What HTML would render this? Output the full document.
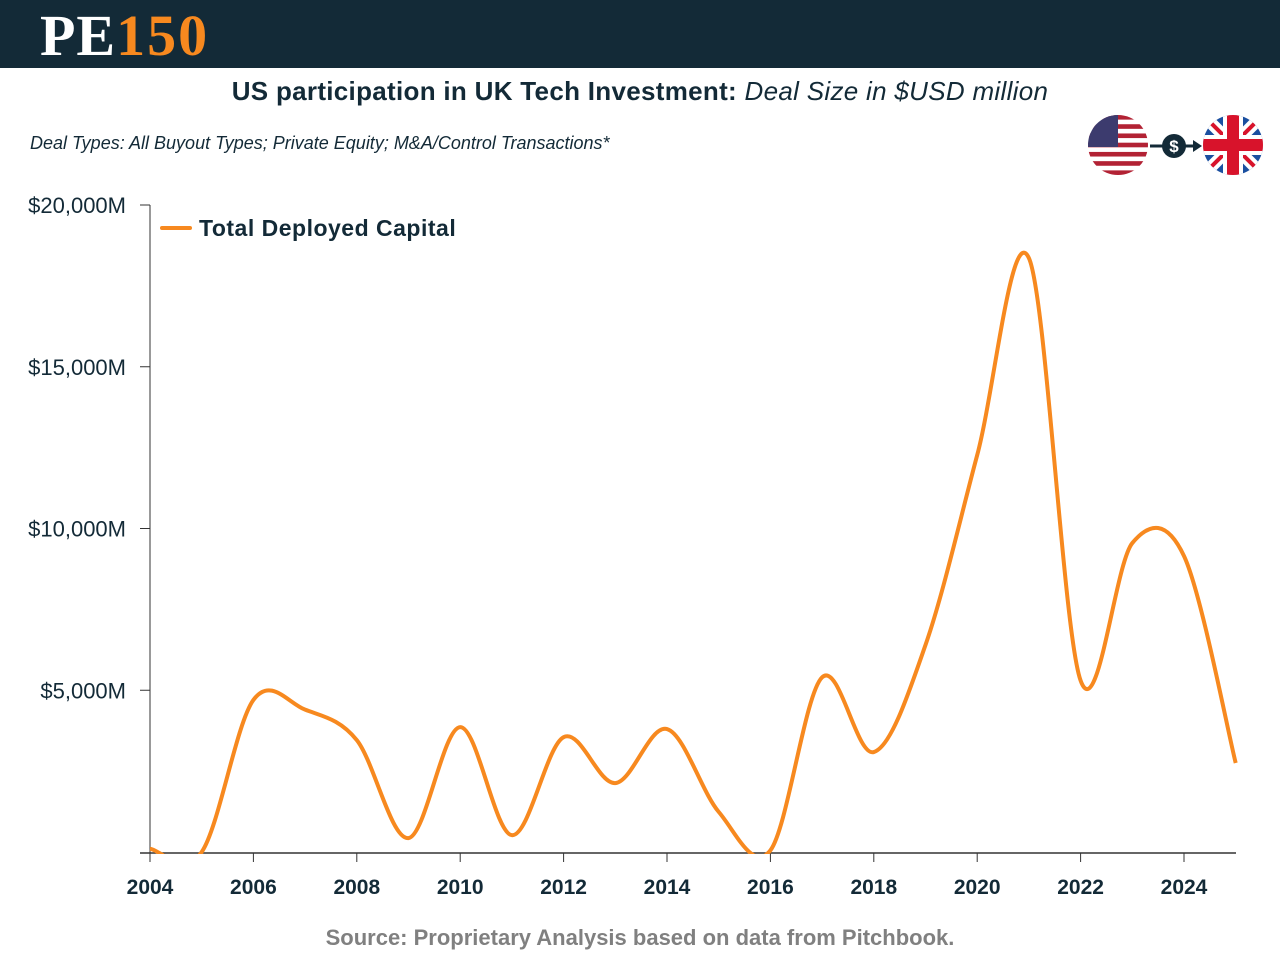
<!DOCTYPE html>
<html><head><meta charset="utf-8"><style>
body{margin:0;width:1280px;height:960px;background:#fff;font-family:"Liberation Sans",sans-serif;overflow:hidden;position:relative}
#hdr{position:absolute;left:0;top:0;width:1280px;height:68px;background:#132a37}
#logo{position:absolute;left:40px;top:2px;font-family:"Liberation Serif",serif;font-weight:bold;font-size:58px;letter-spacing:1px;color:#fff}
#logo span{color:#f7891f;letter-spacing:2px}
#title{position:absolute;top:76px;width:1280px;text-align:center;font-size:26px;color:#132a37;letter-spacing:0.3px}
#sub{position:absolute;left:30px;top:133px;font-size:18px;font-style:italic;color:#132a37}
#src{position:absolute;top:925px;width:1280px;text-align:center;font-size:22px;font-weight:bold;color:#808080}
svg{position:absolute;left:0;top:0}
</style></head><body>
<div id="hdr"><div id="logo">PE<span>150</span></div></div>
<div id="title"><b>US participation in UK Tech Investment:</b> <i>Deal Size in $USD million</i></div>
<div id="sub">Deal Types: All Buyout Types; Private Equity; M&amp;A/Control Transactions*</div>
<div id="src">Source: Proprietary Analysis based on data from Pitchbook.</div>
<svg width="1280" height="960" id="chart">
<defs>
<clipPath id="cu"><circle cx="1118" cy="145" r="30"/></clipPath>
<clipPath id="ck"><circle cx="1233" cy="145" r="30"/></clipPath>
<clipPath id="cp"><rect x="140" y="190" width="1110" height="664"/></clipPath>
</defs>
<g clip-path="url(#cu)">
<rect x="1088" y="115" width="60" height="60" fill="#fff"/>
<g id="stripes"></g>
<rect x="1088" y="115" width="30" height="32" fill="#3c3b6e"/>
</g>
<g>
<line x1="1150" y1="146" x2="1195" y2="146" stroke="#132a37" stroke-width="3"/>
<polygon points="1193,140 1202,146 1193,152" fill="#132a37"/>
<circle cx="1174" cy="146" r="12" fill="#132a37"/>
<text x="1174" y="152" text-anchor="middle" font-size="17" font-weight="bold" fill="#fff">$</text>
</g>
<g clip-path="url(#ck)">
<rect x="1203" y="115" width="60" height="60" fill="#1a4fa0"/>
<line x1="1203" y1="115" x2="1263" y2="175" stroke="#fff" stroke-width="12"/>
<line x1="1263" y1="115" x2="1203" y2="175" stroke="#fff" stroke-width="12"/>
<line x1="1203" y1="115" x2="1263" y2="175" stroke="#d8132b" stroke-width="4"/>
<line x1="1263" y1="115" x2="1203" y2="175" stroke="#d8132b" stroke-width="4"/>
<rect x="1223" y="115" width="20" height="60" fill="#fff"/><rect x="1203" y="135" width="60" height="20" fill="#fff"/>
<rect x="1227" y="115" width="12" height="60" fill="#d8132b"/><rect x="1203" y="139" width="60" height="12" fill="#d8132b"/>
</g>
<g id="axes"></g>
<g id="plot" clip-path="url(#cp)"></g>
<g>
<line x1="162" y1="228" x2="190" y2="228" stroke="#f7891f" stroke-width="4" stroke-linecap="round"/>
<text x="199" y="236" font-size="23" font-weight="bold" fill="#132a37" letter-spacing="0.5">Total Deployed Capital</text>
</g>
</svg>
<script>
const years=[2004,2005,2006,2007,2008,2009,2010,2011,2012,2013,2014,2015,2016,2017,2018,2019,2020,2021,2022,2023,2024,2025];
const values=[100,0,4700,4400,3460,430,3860,520,3550,2130,3800,1240,50,5400,3090,6400,12270,18360,5300,9550,9150,2750];
const yTicks=[5000,10000,15000,20000];
const yTickLabels=["$5,000M","$10,000M","$15,000M","$20,000M"];
const xTicks=[2004,2006,2008,2010,2012,2014,2016,2018,2020,2022,2024];
const NS="http://www.w3.org/2000/svg";
const x=v=>150+(v-2004)*(1184-150)/20;
const y=v=>852-v*(852-205)/20000;
function mk(t,a,p){const e=document.createElementNS(NS,t);for(const k in a)e.setAttribute(k,a[k]);p.appendChild(e);return e;}
const st=document.getElementById('stripes');
for(let i=0;i<13;i+=2){mk('rect',{x:1088,y:115+i*60/13,width:60,height:60/13,fill:'#b22234'},st);}
const ax=document.getElementById('axes');
const ya=mk('line',{x1:150,y1:205,x2:150,y2:853,stroke:'#333','stroke-width':1},ax);


const xa=mk('line',{x1:140,y1:853,x2:1236,y2:853,stroke:'#333','stroke-width':1.5},ax);


yTicks.forEach((v,i)=>{
 mk('line',{x1:140,y1:y(v),x2:150,y2:y(v),stroke:'#333'},ax);
 const t=mk('text',{x:126,y:y(v)+8,'text-anchor':'end','font-size':22,fill:'#132a37'},ax);
 t.textContent=yTickLabels[i];
 
 
});
xTicks.forEach(v=>{
 mk('line',{x1:x(v),y1:853,x2:x(v),y2:862,stroke:'#333'},ax);
 const t=mk('text',{x:x(v),y:894,'text-anchor':'middle','font-size':21,'font-weight':'bold',fill:'#132a37'},ax);
 t.textContent=v;
 
 
});
const pts=years.map((yr,i)=>[x(yr),y(values[i])]);
let d=`M${pts[0][0]},${pts[0][1]}`;
for(let i=0;i<pts.length-1;i++){
 const p0=pts[Math.max(i-1,0)],p1=pts[i],p2=pts[i+1],p3=pts[Math.min(i+2,pts.length-1)];
 const c1=[p1[0]+(p2[0]-p0[0])/6,p1[1]+(p2[1]-p0[1])/6];
 const c2=[p2[0]-(p3[0]-p1[0])/6,p2[1]-(p3[1]-p1[1])/6];
 d+=` C${c1[0]},${c1[1]} ${c2[0]},${c2[1]} ${p2[0]},${p2[1]}`;
}
const ln=mk('path',{d:d,fill:'none',stroke:'#f7891f','stroke-width':4,'stroke-linejoin':'round'},document.getElementById('plot'));


</script>
</body></html>
